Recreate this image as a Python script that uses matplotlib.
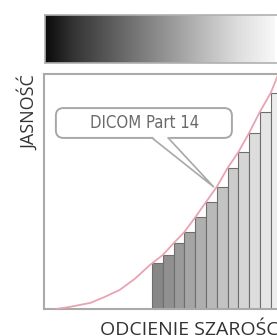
import matplotlib

matplotlib.use("Agg")
import matplotlib.pyplot as plt
import numpy as np
from matplotlib.colors import LinearSegmentedColormap
from matplotlib.patches import FancyBboxPatch, Polygon

# gray-level index of each bar (unit = one bar width) and its brightness (0-100)
BAR_X = [10, 11, 12, 13, 14, 15, 16, 17, 18, 19, 20, 21]
BAR_H = [19.6, 23.0, 28.0, 32.8, 39.0, 45.5, 52.0, 60.0, 66.8, 75.0, 84.0, 92.0]
BAR_GRAY = ["#878787", "#909090", "#9a9a9a", "#a5a5a5", "#afafaf", "#b9b9b9",
            "#c3c3c3", "#cccccc", "#d5d5d5", "#dddddd", "#e5e5e5", "#ededed"]

# DICOM Part 14 curve
CURVE_X = [1.1, 2.4, 4.3, 5.6, 7.0, 8.4, 9.8, 11.0, 12.0, 13.0, 14.0, 15.0,
           16.0, 17.0, 18.0, 19.0, 20.0, 21.0, 21.7]
CURVE_Y = [0.0, 0.9, 2.6, 5.1, 8.1, 12.8, 18.7, 23.0, 28.0, 32.8, 39.0, 45.5,
           52.0, 60.0, 66.8, 75.0, 84.0, 92.0, 100.0]

# gradient stops (position, gray) for the top strip
GRAD_POS = [0.0, 0.12, 0.40, 0.62, 0.84, 0.98, 1.0]
GRAD_GRAY = ["#0a0a0a", "#333333", "#777777", "#aaaaaa", "#dddddd", "#f5f5f5", "#f8f8f8"]

LABEL_FONT = ["Open Sans", "DejaVu Sans"]

W, H = 277, 336
fig = plt.figure(figsize=(W / 100, H / 100), dpi=100)

# top gray-scale strip
gax = fig.add_axes([45 / W, (H - 63) / H, 250 / W, 48 / H])
cmap = LinearSegmentedColormap.from_list("g", list(zip(GRAD_POS, GRAD_GRAY)))
gax.imshow(np.linspace(0, 1, 512)[None, :], aspect="auto", cmap=cmap,
           extent=[0, 230 / 250, 0, 1])
gax.set_xlim(0, 1)
gax.set_ylim(0, 1)
gax.set_xticks([])
gax.set_yticks([])
for s in gax.spines.values():
    s.set_color("#b0b0b0")
    s.set_linewidth(1.2)

# main chart, 1 x-unit = 10.8 px; right part runs off the picture
ax = fig.add_axes([44 / W, (H - 309) / H, 30 * 10.8 / W, 235 / H])
ax.set_xlim(0, 30)
ax.set_ylim(0, 100)
ax.set_xticks([])
ax.set_yticks([])
for s in ax.spines.values():
    s.set_color("#aaaaaa")
    s.set_linewidth(1.5)

ax.bar(BAR_X, BAR_H, width=1, align="edge", color=BAR_GRAY,
       edgecolor="#6e6e6e", linewidth=0.8, zorder=2)
ax.plot(CURVE_X, CURVE_Y, color="#eaa3b3", linewidth=1.3, zorder=3,
        solid_capstyle="round")

# callout box
box = FancyBboxPatch((1.1, 72.8), 16.3, 12.7,
                     boxstyle="round,pad=0,rounding_size=0.7",
                     mutation_aspect=10.8 / 2.35 / 1.0,
                     facecolor="white", edgecolor="#a8a8a8", linewidth=1.4, zorder=4)
ax.add_patch(box)
tip = (15.7, 52.0)
base_l, base_r = (10.0, 72.8), (11.5, 72.8)
ax.add_patch(Polygon([(10.0, 73.4), tip, (11.5, 73.4)], closed=True,
                     facecolor="white", edgecolor="none", zorder=5))
ax.plot([base_l[0], tip[0], base_r[0]], [base_l[1], tip[1], base_r[1]],
        color="#a8a8a8", linewidth=1.2, zorder=6)
ax.text(9.3, 79.0, "DICOM Part 14", ha="center", va="center", fontsize=12,
        fontstretch="condensed", color="#6a6a6a", family="DejaVu Sans", zorder=7)

fig.text(29 / W, 1 - 113 / H, "JASNOŚĆ", rotation=90, ha="center", va="center",
         fontsize=13, color="#333333", family=LABEL_FONT)
fig.text(100 / W, 1 / H, "ODCIENIE SZAROŚCI", ha="left", va="baseline",
         fontsize=14, color="#333333", family=LABEL_FONT)

fig.savefig("out.png", dpi=100)
